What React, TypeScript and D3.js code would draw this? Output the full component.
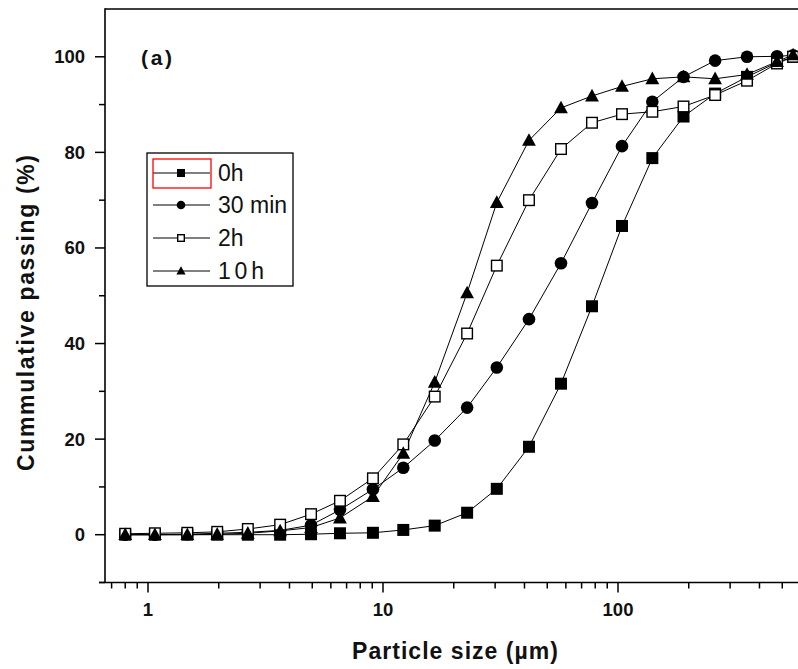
import React from "react";
import * as d3 from "d3";

const sizes = [0.80, 1.07, 1.47, 1.97, 2.66, 3.65, 4.94, 6.56, 9.06, 12.2, 16.6, 22.8, 30.5, 41.8, 57.2, 77.5, 104, 140, 190, 259, 354, 475, 556];
const h0 = [0, 0, 0, 0, 0, 0, 0.1, 0.3, 0.4, 1.0, 1.9, 4.6, 9.6, 18.4, 31.6, 47.8, 64.6, 78.8, 87.5, 92.3, 95.8, 98.8, 100];
const min30 = [0, 0, 0.1, 0.3, 0.5, 0.9, 2.0, 5.2, 9.5, 14.0, 19.7, 26.6, 35.0, 45.1, 56.8, 69.4, 81.3, 90.6, 95.8, 99.2, 100, 100.1, 100.3];
const h2 = [0.2, 0.3, 0.4, 0.6, 1.2, 2.1, 4.3, 7.1, 11.8, 18.9, 28.9, 42.1, 56.3, 70.0, 80.7, 86.2, 88.0, 88.5, 89.6, 92.0, 95.0, 98.6, 100];
const h10 = [0, 0, 0, 0.1, 0.3, 0.8, 1.5, 3.5, 8.0, 17.0, 31.9, 50.6, 69.5, 82.5, 89.3, 91.8, 93.8, 95.4, 95.8, 95.4, 96.3, 99.0, 100.4];

const seriesNames = ["0h", "30 min", "2h", "10h"];
const seriesValues = [h0, min30, h2, h10];
const seriesShapes = ["square", "circle", "openSquare", "triangle"];

const xMajorTicks = [1, 10, 100];
const xTickLabels = ["1", "10", "100"];
const yMajorTicks = [0, 20, 40, 60, 80, 100];
const yTickLabels = ["0", "20", "40", "60", "80", "100"];
const yMinorTicks = [-10, 10, 30, 50, 70, 90];

const W = 798, H = 669;
const left = 105, top = 9, bottom = 582.5;

function Marker({ shape, x, y, s }: { shape: string; x: number; y: number; s: number }) {
  if (shape === "square")
    return <rect x={x - s / 2} y={y - s / 2} width={s} height={s} fill="#000" />;
  if (shape === "openSquare")
    return <rect x={x - s / 2 + 0.7} y={y - s / 2 + 0.7} width={s - 1.4} height={s - 1.4} fill="#fff" stroke="#000" strokeWidth={1.4} />;
  if (shape === "circle")
    return <circle cx={x} cy={y} r={s / 2 + 0.3} fill="#000" />;
  const w = s * 1.15;
  const h = s * 1.0;
  return <path d={`M${x},${y - h * 0.6}L${x + w / 2},${y + h * 0.45}L${x - w / 2},${y + h * 0.45}Z`} fill="#000" />;
}

export default function App() {
  const x = d3.scaleLog().domain([10 ** (-43 / 235), 10 ** (653 / 235)]).range([left, 801]);
  const y = d3.scaleLinear().domain([-10, 110]).range([bottom, top]);
  const line = d3.line<[number, number]>().x(d => x(d[0])).y(d => y(d[1]));

  const xMinor: number[] = [];
  [0.1, 1, 10, 100].forEach(dec => {
    for (let k = 2; k <= 9; k++) {
      const v = dec * k;
      if (v >= x.domain()[0] && v <= x.domain()[1] && !xMajorTicks.includes(v)) xMinor.push(v);
    }
  });

  const font = "Arial, 'Liberation Sans', sans-serif";
  const legendY = [173, 205, 238, 271];

  return (
    <svg width={W} height={H} style={{ position: "absolute", left: 0, top: 0, background: "#fff" }} fontFamily={font}>
      <rect width={W} height={H} fill="#fff" />
      {seriesValues.map((vals, i) => (
        <path key={"l" + i} d={line(sizes.map((s, j) => [s, vals[j]]) as [number, number][]) || ""} fill="none" stroke="#000" strokeWidth={1} />
      ))}
      {seriesValues.map((vals, i) => (
        <g key={"m" + i}>
          {sizes.map((s, j) => (
            <Marker key={j} shape={seriesShapes[i]} x={x(s)} y={y(vals[j])} s={12} />
          ))}
        </g>
      ))}
      <line x1={left} x2={W} y1={top} y2={top} stroke="#000" strokeWidth={1.6} />
      <line x1={left} x2={left} y1={top - 0.8} y2={bottom} stroke="#000" strokeWidth={1.6} />
      <line x1={left - 6} x2={W} y1={bottom} y2={bottom} stroke="#000" strokeWidth={1.6} />
      {xMajorTicks.map((t, i) => (
        <g key={"xt" + i}>
          <line x1={x(t)} x2={x(t)} y1={bottom} y2={bottom + 10} stroke="#000" strokeWidth={1.5} />
          <text x={x(t)} y={616} textAnchor="middle" style={{ fontSize: "18.5px", fontWeight: 700 }} fill="#111">{xTickLabels[i]}</text>
        </g>
      ))}
      {xMinor.map((t, i) => (
        <line key={"xm" + i} x1={x(t)} x2={x(t)} y1={bottom} y2={bottom + 6} stroke="#000" strokeWidth={1.5} />
      ))}
      {yMajorTicks.map((t, i) => (
        <g key={"yt" + i}>
          <line x1={left - 10} x2={left} y1={y(t)} y2={y(t)} stroke="#000" strokeWidth={1.5} />
          <text x={85} y={y(t) + 6.5} textAnchor="end" style={{ fontSize: "18.5px", fontWeight: 700 }} fill="#111">{yTickLabels[i]}</text>
        </g>
      ))}
      {yMinorTicks.map((t, i) => (
        <line key={"ym" + i} x1={left - 6} x2={left} y1={y(t)} y2={y(t)} stroke="#000" strokeWidth={1.5} />
      ))}
      <text x={455} y={659} textAnchor="middle" style={{ fontSize: "23px", fontWeight: 700 }} textLength={206} lengthAdjust="spacing" fill="#111">Particle size (µm)</text>
      <text transform="translate(34,313) rotate(-90)" x={0} y={0} textAnchor="middle" style={{ fontSize: "23px", fontWeight: 700 }} textLength={316} lengthAdjust="spacing" fill="#111">Cummulative passing (%)</text>
      <text x={141} y={64.5} style={{ fontSize: "21px", fontWeight: 700 }} textLength={31} lengthAdjust="spacing" fill="#111">(a)</text>
      <rect x={147} y={153} width={146} height={133} fill="#fff" stroke="#000" strokeWidth={1.3} />
      {seriesNames.map((n, i) => (
        <g key={"lg" + i}>
          <line x1={153} x2={210} y1={legendY[i]} y2={legendY[i]} stroke="#000" strokeWidth={1} />
          <Marker shape={seriesShapes[i]} x={181} y={legendY[i]} s={8} />
          <text x={218} y={legendY[i] + 8} style={{ fontSize: "23px" }} textLength={n === "10h" ? 46 : undefined} lengthAdjust="spacing" fill="#111">{n}</text>
        </g>
      ))}
      <rect x={153} y={159} width={58} height={29} fill="none" stroke="#f00" strokeWidth={1.3} />
    </svg>
  );
}
